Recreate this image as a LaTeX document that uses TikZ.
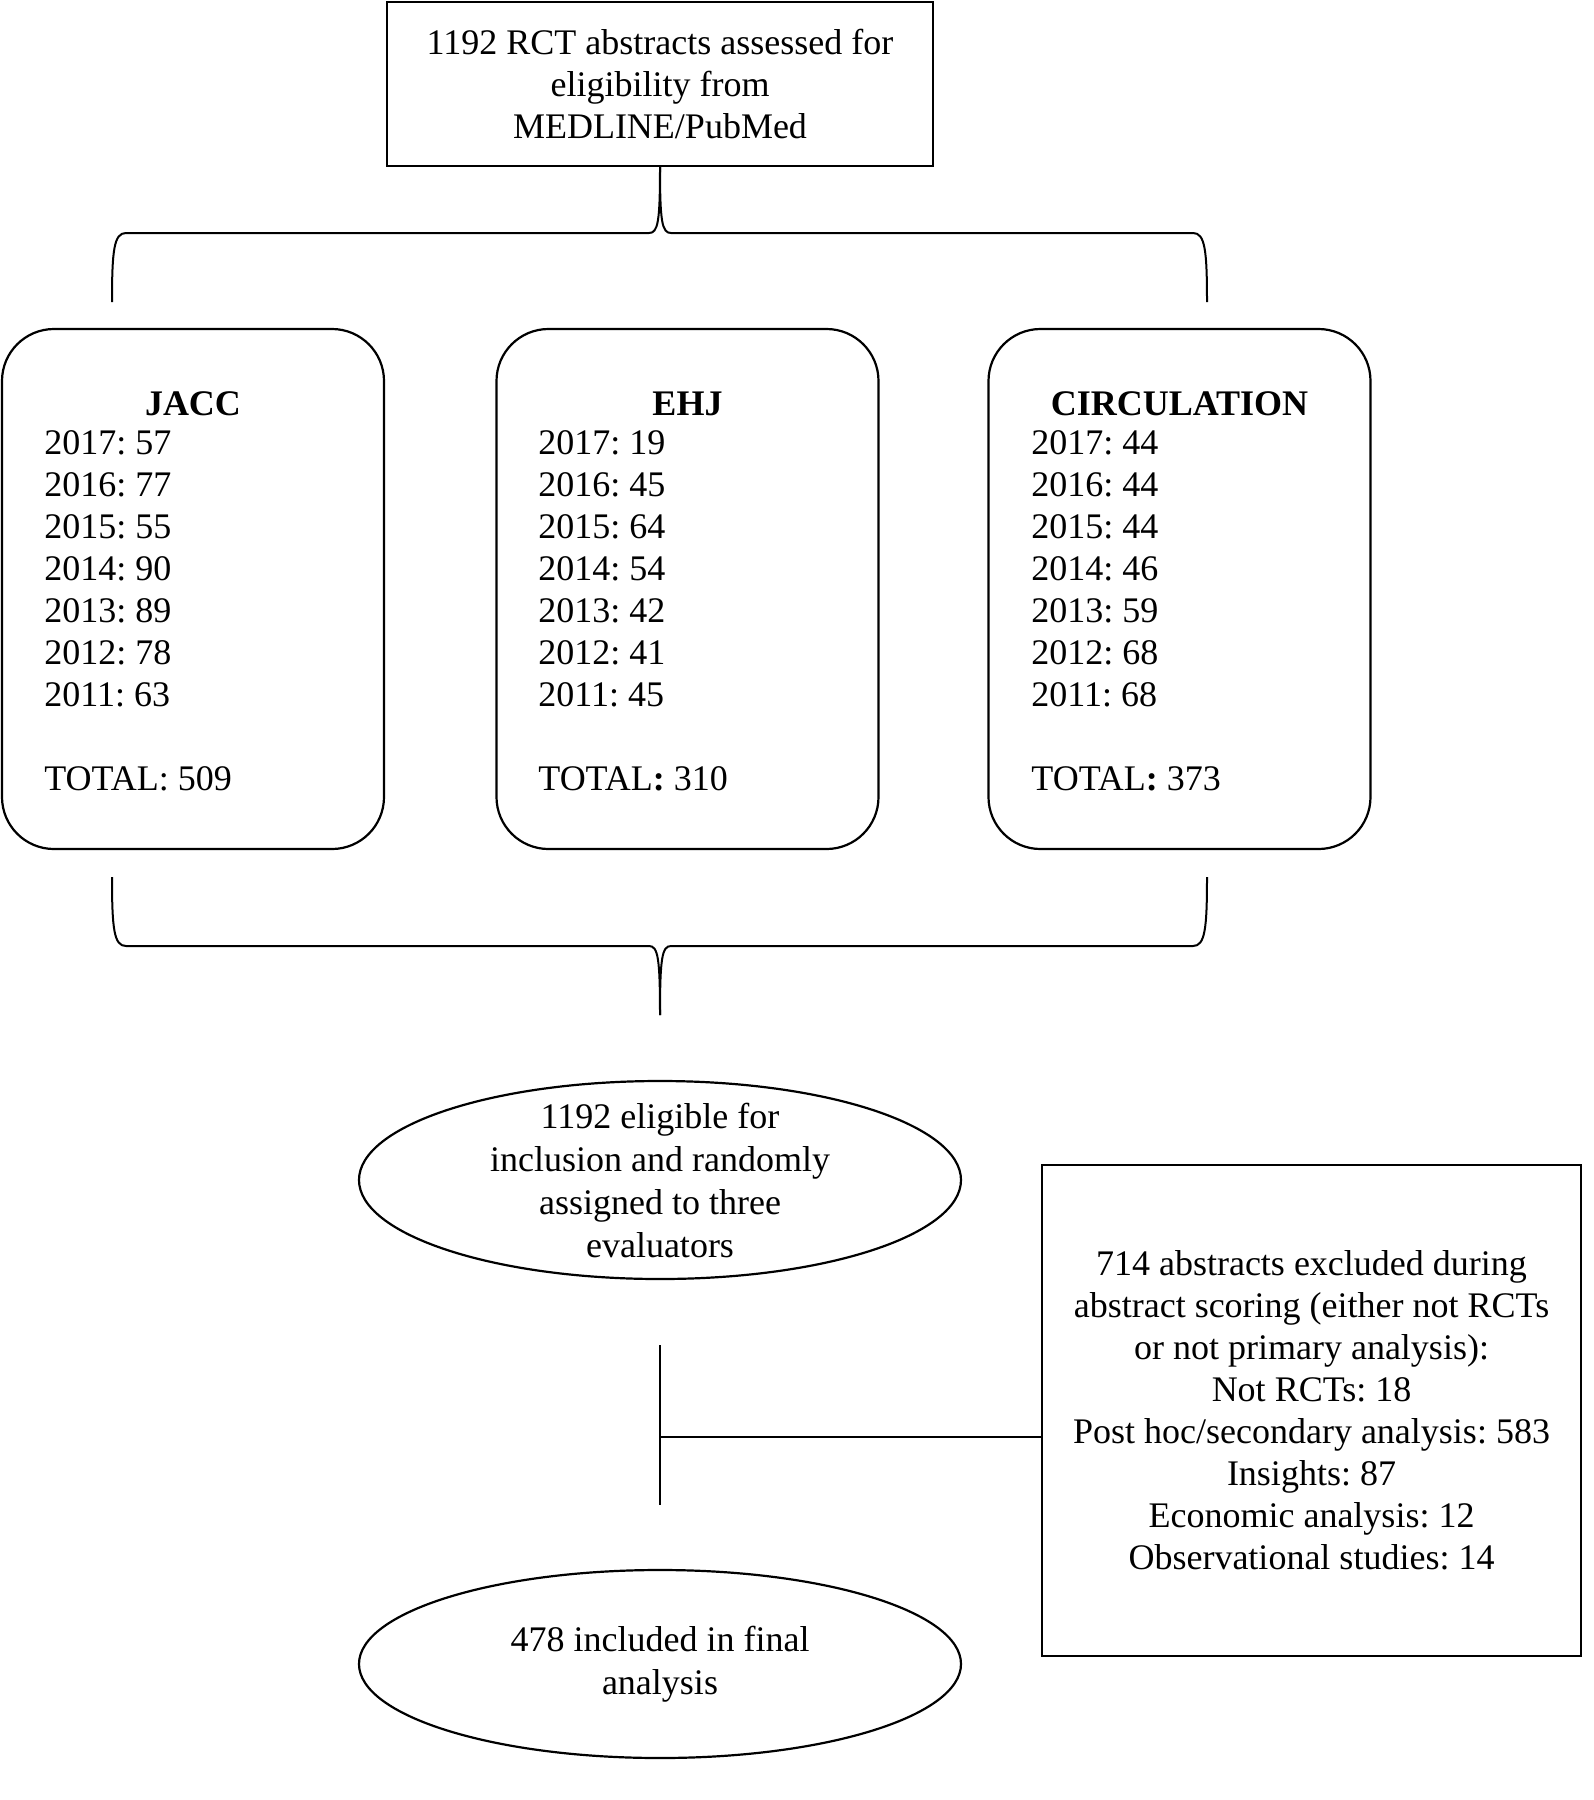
\documentclass[tikz,border=0pt]{standalone}
\usepackage{fontspec}
\setmainfont{Liberation Serif}
\usetikzlibrary{shapes.geometric}
\frenchspacing
\begin{document}
\begin{tikzpicture}[x=0.5pt,y=-0.5pt,
  txt/.style={font=\fontsize{18pt}{21pt}\selectfont, inner sep=0pt},
  sqbox/.style={draw, line width=1.1pt, inner sep=0pt, align=center, font=\fontsize{18pt}{21pt}\selectfont},
  rbox/.style={draw, line width=1.1pt, rounded corners=26pt, minimum width=191pt, minimum height=260pt, inner sep=0pt},
  oval/.style={draw, ellipse, line width=1.1pt, minimum width=301pt, inner sep=0pt},
  conn/.style={line width=1pt}]
\useasboundingbox (0,0) rectangle (1594,1800);

% top box
\node[sqbox, minimum width=273pt, minimum height=82pt] (top) at (660,84)
  {1192 RCT abstracts assessed for\\eligibility from\\MEDLINE/PubMed};

% journal boxes
\node[rbox] (jacc) at (193,589) {};
\node[rbox] (ehj) at (687.5,589) {};
\node[rbox] (circ) at (1179.5,589) {};

\node[txt, anchor=base, font=\fontsize{18pt}{21pt}\selectfont\bfseries] (jacch) at (jacc.center |- 0,415) {JACC};
\node[txt, anchor=base, font=\fontsize{18pt}{21pt}\selectfont\bfseries] (ehjh) at (ehj.center |- 0,415) {EHJ};
\node[txt, anchor=base, font=\fontsize{18pt}{21pt}\selectfont\bfseries] (circh) at (circ.center |- 0,415) {CIRCULATION};

\node[txt, anchor=north west, align=left] (jacct) at (44,430)
  {2017: 57\\2016: 77\\2015: 55\\2014: 90\\2013: 89\\2012: 78\\2011: 63\\[21pt]TOTAL: 509};
\node[txt, anchor=north west, align=left] (ehjt) at (538,430)
  {2017: 19\\2016: 45\\2015: 64\\2014: 54\\2013: 42\\2012: 41\\2011: 45\\[21pt]TOTAL\textbf{:} 310};
\node[txt, anchor=north west, align=left] (circt) at (1031,430)
  {2017: 44\\2016: 44\\2015: 44\\2014: 46\\2013: 59\\2012: 68\\2011: 68\\[21pt]TOTAL\textbf{:} 373};

% ellipses
\node[oval, minimum height=99pt] (elig) at (660,1180) {};
\node[txt, align=center, font=\fontsize{18pt}{21.5pt}\selectfont] (eligt) at (elig.center)
  {1192 eligible for\\inclusion and randomly\\assigned to three\\evaluators};
\node[oval, minimum height=94pt] (final) at (660,1664) {};
\node[txt, align=center, font=\fontsize{18pt}{21.5pt}\selectfont] (finalt) at (final.center) {478 included in final\\analysis};

% excluded box
\node[sqbox, minimum width=269.5pt, minimum height=245.5pt] (excl) at (1311.5,1410.5)
  {714 abstracts excluded during\\abstract scoring (either not RCTs\\or not primary analysis):\\Not RCTs: 18\\Post hoc/secondary analysis: 583\\Insights: 87\\Economic analysis: 12\\Observational studies: 14};

% coordinates for free ends
\coordinate (tbl) at (112,302);
\coordinate (tbr) at (1207,302);
\coordinate (bbl) at (112,877);
\coordinate (bbr) at (1207,877);
\coordinate (btip) at (660,1015);
\coordinate (vtop) at (660,1345);
\coordinate (vbot) at (660,1505);
\coordinate (hc) at (660,1437);

% top brace
\draw[conn] (tbl) .. controls (112,250) and (114,233) .. (126,233) -- (649,233)
  .. controls (658,233) and (660,222) .. (top.south);
\draw[conn] (tbr) .. controls (1207,250) and (1205,233) .. (1193,233) -- (671,233)
  .. controls (662,233) and (660,222) .. (top.south);

% bottom brace
\draw[conn] (bbl) .. controls (112,929) and (114,946) .. (126,946) -- (649,946)
  .. controls (658,946) and (660,958) .. (btip);
\draw[conn] (bbr) .. controls (1207,929) and (1205,946) .. (1193,946) -- (671,946)
  .. controls (662,946) and (660,958) .. (btip);

% exclusion connector
\draw[conn] (vtop) -- (vbot);
\draw[conn] (hc) -- (hc -| excl.west);
\end{tikzpicture}
\end{document}
